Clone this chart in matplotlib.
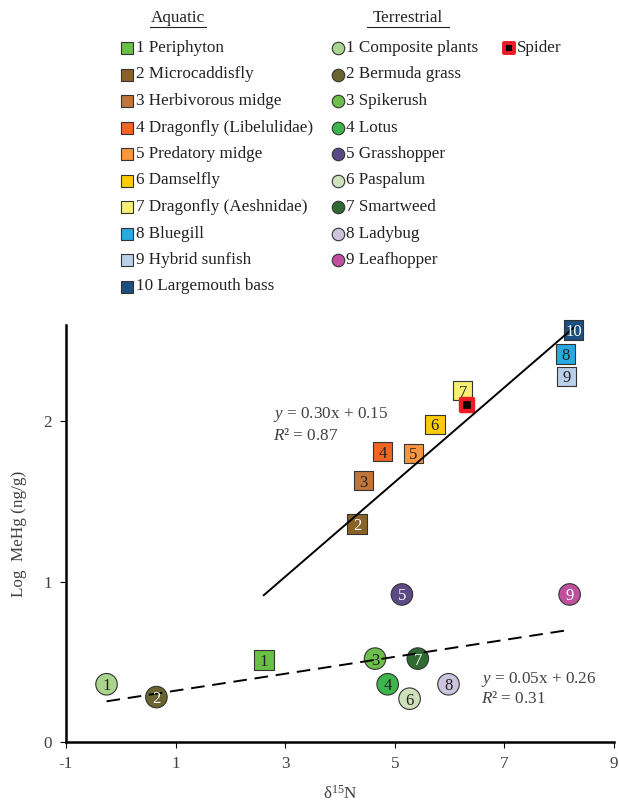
import numpy as np
import matplotlib
matplotlib.use('Agg')
import matplotlib.pyplot as plt
from matplotlib.markers import MarkerStyle

plt.rcParams['font.family'] = ['Liberation Serif', 'DejaVu Serif']
plt.rcParams['mathtext.fontset'] = 'custom'
plt.rcParams['mathtext.rm'] = 'Liberation Serif'
plt.rcParams['mathtext.it'] = 'Liberation Serif:italic'

# aquatic taxa (squares)
aq_names = ['Periphyton', 'Microcaddisfly', 'Herbivorous midge', 'Dragonfly (Libelulidae)',
            'Predatory midge', 'Damselfly', 'Dragonfly (Aeshnidae)', 'Bluegill',
            'Hybrid sunfish', 'Largemouth bass']
aq_x = [2.61, 4.31, 4.43, 4.78, 5.34, 5.73, 6.24, 8.11, 8.13, 8.26]
aq_y = [0.51, 1.36, 1.63, 1.81, 1.80, 1.98, 2.19, 2.42, 2.28, 2.57]
aq_colors = ['#6abf45', '#8b6226', '#c0763a', '#f26522', '#f7963d', '#ffcb05',
             '#f7ef73', '#27aae1', '#b9d0e9', '#1c4f80']
aq_txt = ['#222222', 'white', '#222222', '#222222', '#222222', '#222222',
          '#222222', '#222222', '#222222', 'white']

# terrestrial taxa (circles)
te_names = ['Composite plants', 'Bermuda grass', 'Spikerush', 'Lotus', 'Grasshopper',
            'Paspalum', 'Smartweed', 'Ladybug', 'Leafhopper']
te_x = [-0.26, 0.65, 4.64, 4.87, 5.13, 5.27, 5.42, 5.98, 8.19]
te_y = [0.36, 0.28, 0.52, 0.36, 0.92, 0.27, 0.52, 0.36, 0.92]
te_colors = ['#a9d58e', '#6a6431', '#6dbf4b', '#3cb54a', '#5b4a85', '#cfe1bb',
             '#2f6a32', '#cdc5df', '#c0509f']
te_txt = ['#222222', 'white', '#222222', '#222222', 'white', '#222222',
          'white', '#222222', 'white']

spider_x = [6.32]
spider_y = [2.10]

eq_aq = ['$y$ = 0.30x + 0.15', '$R$² = 0.87']
eq_te = ['$y$ = 0.05x + 0.26', '$R$² = 0.31']

FS = 12.3
W, H = 619, 802
fig = plt.figure(figsize=(W / 100, H / 100), dpi=100)

ax = fig.add_axes([66 / W, 60 / H, 548 / W, 417 / H])
ax.set_xlim(-1, 9)
ax.set_ylim(0, 2.6)
ax.set_xticks([-1, 1, 3, 5, 7, 9])
ax.set_xticklabels(['-1', '1', '3', '5', '7', '9'])
ax.set_yticks([0, 1, 2])
for s in ['top', 'right']:
    ax.spines[s].set_visible(False)
for s in ['left', 'bottom']:
    ax.spines[s].set_linewidth(1.8)
ax.tick_params(length=4, width=0.8, labelsize=FS, labelcolor='#404040', pad=6)
ax.set_xlabel('δ$^{15}$N', fontsize=FS, color='#404040', labelpad=9)
ax.set_ylabel('Log  MeHg (ng/g)', fontsize=FS, color='#404040', labelpad=12)

# regression lines
aq_fit = np.polyfit(aq_x, aq_y, 1)
xs = np.array([min(aq_x), max(aq_x)])
ax.plot(xs, np.polyval(aq_fit, xs), color='black', lw=1.4, zorder=4, clip_on=False)
te_fit = np.polyfit(te_x, te_y, 1)
xs = np.array([min(te_x), max(te_x)])
ax.plot(xs, np.polyval(te_fit, xs), color='black', lw=1.4, ls=(0, (7, 4)), zorder=4)

ax.scatter(aq_x, aq_y, marker='s', s=14 ** 2, c=aq_colors, edgecolors='#333333',
           linewidths=0.8, zorder=3, clip_on=False)
for i in range(len(aq_x)):
    ax.text(aq_x[i], aq_y[i], str(i + 1), ha='center', va='center_baseline',
            fontsize=12, color=aq_txt[i], zorder=5)

ax.scatter(te_x, te_y, marker='o', s=15.5 ** 2, c=te_colors, edgecolors='#333333',
           linewidths=0.8, zorder=3, clip_on=False)
for i in range(len(te_x)):
    ax.text(te_x[i], te_y[i], str(i + 1), ha='center', va='center_baseline',
            fontsize=12, color=te_txt[i], zorder=5)

spider_marker = MarkerStyle('s', joinstyle='round')
ax.plot(spider_x, spider_y, ls='none', marker=spider_marker, ms=8.5, mfc='black',
        mec='#ed1c24', mew=3.2, zorder=3)

ax.text(2.77, 2.04, eq_aq[0], fontsize=FS, color='#404040', va='center')
ax.text(2.77, 1.91, eq_aq[1], fontsize=FS, color='#404040', va='center')
ax.text(6.58, 0.39, eq_te[0], fontsize=FS, color='#404040', va='center')
ax.text(6.58, 0.27, eq_te[1], fontsize=FS, color='#404040', va='center')

# legend drawn in pixel space
lax = fig.add_axes([0, 0, 1, 1])
lax.set_xlim(0, W)
lax.set_ylim(H, 0)
lax.axis('off')

lax.text(178, 18, 'Aquatic', ha='center', va='center', fontsize=FS, color='#222222')
lax.plot([150, 206], [27, 27], color='#222222', lw=0.8)
lax.text(408, 18, 'Terrestrial', ha='center', va='center', fontsize=FS, color='#222222')
lax.plot([367, 449], [27, 27], color='#222222', lw=0.8)

row0, step = 48, 26.5
for i, name in enumerate(aq_names):
    y = row0 + i * step
    lax.plot(127, y, marker='s', ms=8.5, mfc=aq_colors[i], mec='#333333', mew=0.8)
    lax.text(136, y, f'{i + 1} {name}', va='center', fontsize=FS, color='#222222')
for i, name in enumerate(te_names):
    y = row0 + i * step
    lax.plot(338, y, marker='o', ms=9, mfc=te_colors[i], mec='#333333', mew=0.8)
    lax.text(346, y, f'{i + 1} {name}', va='center', fontsize=FS, color='#222222')
lax.plot(509, row0, marker=spider_marker, ms=6.5, mfc='black', mec='#ed1c24', mew=2.8)
lax.text(517, row0, 'Spider', va='center', fontsize=FS, color='#222222')

fig.savefig('out.png', dpi=100)
